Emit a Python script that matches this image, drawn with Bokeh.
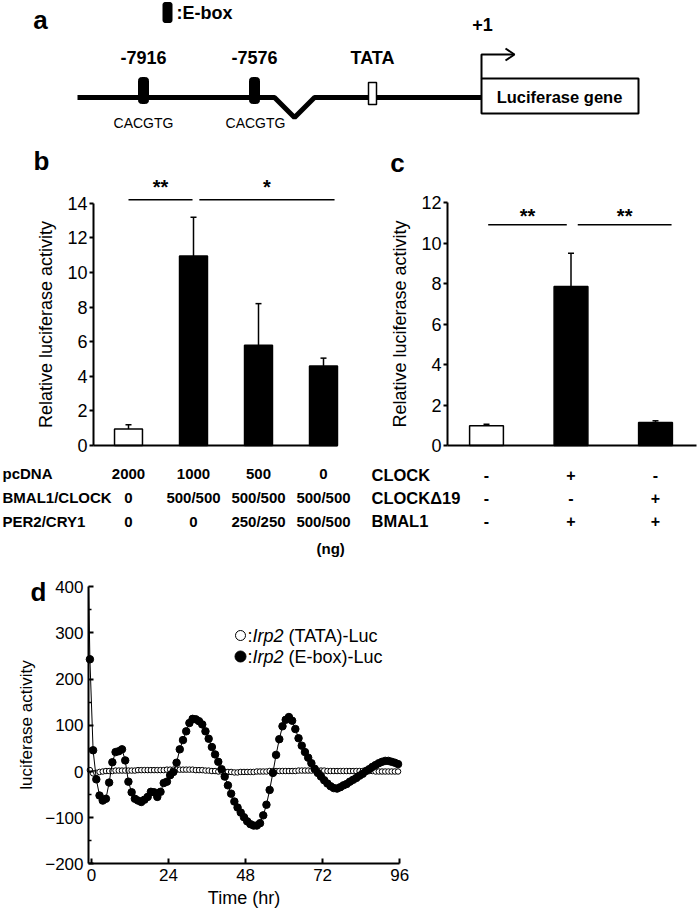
from bokeh.plotting import figure
from bokeh.layouts import column, row
from bokeh.models import Range1d, FixedTicker, Whisker, TeeHead, ColumnDataSource
from bokeh.core.properties import value
from bokeh.embed import file_html
from bokeh.resources import INLINE

FONT = "Liberation Sans"

# ---------------- data ----------------
# panel b
b_x = [1, 2, 3, 4]
b_values = [0.95, 10.95, 5.8, 4.6]
b_err = [0.25, 2.25, 2.4, 0.45]
b_colors = ["white", "black", "black", "black"]
b_row_names = ["pcDNA", "BMAL1/CLOCK", "PER2/CRY1"]
b_row_values = [["2000", "1000", "500", "0"],
                ["0", "500/500", "500/500", "500/500"],
                ["0", "0", "250/250", "500/500"]]
b_sig = [(1.0, 1.985, "**"), (2.09, 4.17, "*")]
b_sig_level = 14.2
b_yticks = [0, 2, 4, 6, 8, 10, 12, 14]

# panel c
c_x = [1, 2, 3]
c_values = [0.97, 7.85, 1.13]
c_err = [0.08, 1.65, 0.09]
c_colors = ["white", "black", "black"]
c_row_names = ["CLOCK", "CLOCK\u039419", "BMAL1"]
c_row_values = [["-", "+", "-"], ["-", "-", "+"], ["-", "+", "+"]]
c_sig = [(1.02, 1.95, "**"), (2.08, 3.19, "**")]
c_sig_level = 10.9
c_yticks = [0, 2, 4, 6, 8, 10, 12]

# panel d (hourly samples)
d_time = [t - 0.5 for t in range(97)]
d_ebox = [243, 46, -17, -52, -63, -59, -24, 20, 42, 44,
          48, 24, -22, -45, -59, -63, -66, -61, -55, -44,
          -45, -55, -44, -25, -22, -8, -1, 19, 48, 68,
          87, 105, 114, 113, 109, 102, 87, 71, 53, 37,
          21, 5, -11, -30, -48, -65, -78, -89, -99, -108,
          -114, -117, -117, -112, -95, -72, -40, -3, 36, 70,
          98, 112, 118, 110, 92, 72, 56, 42, 30, 18,
          6, -3, -11, -19, -26, -32, -36, -37, -34, -30,
          -27, -22, -18, -14, -9, -5, 1, 5, 10, 14,
          18, 21, 23, 23, 21, 19, 16]
d_tata = [3, -4, -3, -1, 0, 1, 1, 1, 2, 2,
          2, 2, 2, 2, 2, 3, 3, 3, 3, 3,
          3, 3, 3, 3, 4, 4, 4, 4, 4, 4,
          4, 4, 4, 3, 3, 3, 2, 2, 1, 1,
          0, 0, -1, -1, -1, -2, -2, -1, -1, -1,
          -1, -1, 0, 0, 0, 0, 1, 1, 1, 1,
          1, 1, 1, 1, 1, 2, 2, 2, 2, 2,
          2, 2, 2, 2, 1, 1, 1, 1, 1, 1,
          1, 1, 1, 1, 1, 1, 1, 1, 1, 0,
          0, 0, 0, 0, 0, 0, 0]
d_ebox_lead = (-0.9, 400)   # start of the trace, along the axis top
d_xticks = [0, 24, 48, 72, 96]
d_yticks = [-200, -100, 0, 100, 200, 300, 400]
d_yminor = [-150, -50, 50, 150, 250, 350]
d_xbounds = (-0.93, 96)
d_ybounds = (-200, 400)

# panel a (schematic, page-pixel layout)
a_line_x = [77, 274, 294, 314, 481]
a_line_y = [97, 97, 117, 97, 97]
a_ebox_x = [143, 254]
a_ebox_labels = ["-7916", "-7576"]
a_ebox_seq = ["CACGTG", "CACGTG"]
a_tata_x = 372

PAGE_X0, PAGE_Y0 = 0, 0
TOTAL_W = 698


def base_fig(width, height, xr, yr):
    p = figure(output_backend="svg", toolbar_location=None, width=width, height=height,
               x_range=Range1d(*xr), y_range=Range1d(*yr), min_border=0)
    p.outline_line_color = None
    p.xgrid.visible = False
    p.ygrid.visible = False
    p.background_fill_color = None
    p.border_fill_color = None
    if "frame_align" in p.properties():
        p.frame_align = False
    return p


def style_axis(ax, size="18px"):
    ax.axis_line_width = 2
    ax.major_tick_line_width = 2
    ax.minor_tick_line_color = None
    ax.major_label_text_font = FONT
    ax.major_label_text_font_size = size
    ax.major_label_text_color = "black"
    ax.axis_label_text_font = FONT
    ax.axis_label_text_font_style = "normal"
    ax.axis_label_text_color = "black"


bold = dict(text_font=value(FONT), text_font_style="bold", text_color="black")

# ---------------- panel a ----------------
TOP_H = 176
pa = base_fig(TOTAL_W, TOP_H, (PAGE_X0, PAGE_X0 + TOTAL_W), (PAGE_Y0 + TOP_H, PAGE_Y0))
pa.axis.visible = False
pa.line(a_line_x, a_line_y, line_width=5, color="black")
pa.rect(x=a_ebox_x, y=[90, 90], width=10, height=26, fill_color="black", line_color="black",
        border_radius=3)
pa.rect(x=[a_tata_x], y=[93], width=8, height=22, fill_color="white", line_color="black",
        line_width=1.5)
pa.quad(left=[481], right=[638], top=[78], bottom=[113], fill_color="white",
        line_color="black", line_width=2)
pa.line([481, 481, 513], [78, 54, 54], line_width=2, color="black")
pa.line([505, 514, 505], [48, 54, 60], line_width=2, color="black")
pa.rect(x=[167], y=[12], width=9, height=20, fill_color="black", line_color="black",
        border_radius=2)
pa.text(x=[176], y=[12], text=[":E-box"], text_font_size="18px", text_align="left",
        text_baseline="middle", **bold)
pa.text(x=a_ebox_x + [a_tata_x], y=[57, 57, 57], text=a_ebox_labels + ["TATA"],
        text_font_size="18px", text_align="center", text_baseline="middle", **bold)
pa.text(x=[482], y=[24], text=["+1"], text_font_size="18px", text_align="center",
        text_baseline="middle", **bold)
pa.text(x=[559], y=[96], text=["Luciferase gene"], text_font_size="16.5px",
        text_align="center", text_baseline="middle", **bold)
pa.text(x=[a_ebox_x[0], a_ebox_x[1] + 1], y=[122, 122], text=a_ebox_seq,
        text_font_size="14px", text_align="center", text_baseline="middle",
        text_font=value(FONT), text_color="black")
pa.text(x=[40, 41, 397], y=[19, 160, 162], text=["a", "b", "c"], text_font_size="26px",
        text_align="center", text_baseline="middle", **bold)


# ---------------- panels b & c ----------------
BC_H = 395
BC_TOP = PAGE_Y0 + TOP_H          # page y of the top of the b/c row
BASE_Y = 445                      # page y of the value 0
B_W = 357
C_W = TOTAL_W - B_W


def bar_panel(xs, vals, errs, colors, page_left, width, x1_px, px_per_x, px_per_y, yaxis_px,
              xaxis_end, bar_w, sig, sig_level, star_y, yticks, row_names, row_vals,
              header_px, row_px, label_size, head_size):
    # ranges chosen so the whole canvas is the frame; axes are placed at fixed data positions
    xr = (1 + (page_left - x1_px) / px_per_x, 1 + (page_left + width - x1_px) / px_per_x)
    yr = ((BASE_Y - BC_TOP - BC_H) / px_per_y, (BASE_Y - BC_TOP) / px_per_y)
    p = base_fig(width, BC_H, xr, yr)
    yaxis_x = 1 + (yaxis_px - x1_px) / px_per_x
    src = ColumnDataSource(dict(x=xs, top=vals, upper=[v + e for v, e in zip(vals, errs)],
                                color=colors))
    p.add_layout(Whisker(source=src, base="x", lower="top", upper="upper",
                         line_width=1.5, line_color="black",
                         upper_head=TeeHead(size=6, line_width=1.5, line_color="black"),
                         lower_head=None))
    p.vbar(x="x", top="top", width=bar_w, fill_color="color", line_color="black",
           line_width=1.5, source=src)
    for x0, x1, stars in sig:
        p.line([x0, x1], [sig_level, sig_level], line_width=1.5, color="black")
        p.text(x=[(x0 + x1) / 2], y=[star_y], text=[stars], text_font_size="20px",
               text_align="center", text_baseline="alphabetic", **bold)
    ya = p.yaxis[0]
    style_axis(ya)
    ya.fixed_location = yaxis_x
    ya.ticker = FixedTicker(ticks=yticks)
    ya.bounds = (0, yticks[-1])
    ya.axis_label = "Relative luciferase activity"
    ya.axis_label_text_font_size = "18px"
    ya.axis_label_standoff = 8
    ya.major_tick_out = 4
    ya.major_tick_in = 0
    ya.major_label_standoff = 2
    xa = p.xaxis[0]
    style_axis(xa)
    xa.fixed_location = 0
    xa.bounds = (yaxis_x, xaxis_end)
    xa.ticker = FixedTicker(ticks=[])
    xa.major_tick_out = 0
    xa.major_tick_in = 0
    header_x = 1 + (header_px - x1_px) / px_per_x
    for name, vals_r, rp in zip(row_names, row_vals, row_px):
        ry = (BASE_Y - rp) / px_per_y
        p.text(x=[header_x], y=[ry], text=[name], text_font_size=head_size,
               text_align="left", text_baseline="middle", **bold)
        p.text(x=xs, y=[ry] * len(xs), text=vals_r, text_font_size=label_size,
               text_align="center", text_baseline="middle", **bold)
    return p, px_per_y


pb, b_pxy = bar_panel(b_x, b_values, b_err, b_colors, PAGE_X0, B_W, 128, 65.0, 17.3, 93, 4.22,
                      0.43, b_sig, b_sig_level, 14.95, b_yticks, b_row_names, b_row_values,
                      2, [473, 497, 521], "15px", "15px")
pb.text(x=[4.11], y=[(BASE_Y - 548) / b_pxy], text=["(ng)"], text_font_size="15px",
        text_align="center", text_baseline="middle", **bold)

pc, _ = bar_panel(c_x, c_values, c_err, c_colors, PAGE_X0 + B_W, C_W, 486, 84.5, 20.25, 447,
                  3.48, 0.40, c_sig, c_sig_level, 11.35, c_yticks, c_row_names, c_row_values,
                  371, [474, 497, 520], "16px", "16.5px")

# ---------------- panel d ----------------
D_TOP = BC_TOP + BC_H
D_H = 911 - D_TOP
T0_PX, PX_PER_T = 91.0, 3.21       # page x of t = 0, pixels per hour
V0_PX, PX_PER_V = 771.0, 0.4617    # page y of value 0, pixels per unit
d_xr = ((PAGE_X0 - T0_PX) / PX_PER_T, (PAGE_X0 + TOTAL_W - T0_PX) / PX_PER_T)
d_yr = ((V0_PX - D_TOP - D_H) / PX_PER_V, (V0_PX - D_TOP) / PX_PER_V)
pd_ = base_fig(TOTAL_W, D_H, d_xr, d_yr)

pd_.scatter(d_time, d_tata, size=5.5, marker="circle", fill_color="white", line_color="black",
            line_width=1)
pd_.line([d_ebox_lead[0]] + d_time, [d_ebox_lead[1]] + d_ebox, line_width=1, color="black")
pd_.scatter(d_time, d_ebox, size=7.5, marker="circle", fill_color="black", line_color="black")


def tx(px):
    return (px - T0_PX) / PX_PER_T


def vy(py):
    return (V0_PX - py) / PX_PER_V


# legend
leg_rows = [(635, "(TATA)-Luc", "white", 10), (656, "(E-box)-Luc", "black", 11)]
for py, txt, fill, sz in leg_rows:
    pd_.scatter([tx(240)], [vy(py)], size=sz, marker="circle", fill_color=fill,
                line_color="black", line_width=1)
    pd_.text(x=[tx(247)], y=[vy(py)], text=[":"], text_font_size="18px", text_align="left",
             text_baseline="middle", text_font=value(FONT), text_color="black")
    pd_.text(x=[tx(252)], y=[vy(py)], text=["Irp2"], text_font_size="18px", text_align="left",
             text_baseline="middle", text_font=value(FONT), text_font_style="italic",
             text_color="black")
    pd_.text(x=[tx(288)], y=[vy(py)], text=[txt], text_font_size="18px", text_align="left",
             text_baseline="middle", text_font=value(FONT), text_color="black")
pd_.text(x=[tx(38)], y=[vy(591)], text=["d"], text_font_size="26px", text_align="center",
         text_baseline="middle", **bold)

xa, ya = pd_.xaxis[0], pd_.yaxis[0]
style_axis(xa, "17px")
style_axis(ya, "17px")
xa.fixed_location = d_ybounds[0]
ya.fixed_location = d_xbounds[0]
xa.bounds = d_xbounds
ya.bounds = d_ybounds
xa.ticker = FixedTicker(ticks=d_xticks)
ya.ticker = FixedTicker(ticks=d_yticks, minor_ticks=d_yminor)
ya.minor_tick_line_color = "black"
ya.minor_tick_line_width = 1.5
ya.minor_tick_in = 3
ya.minor_tick_out = 0
for ax in (xa, ya):
    ax.major_tick_in = 5
    ax.major_tick_out = 0
    ax.major_label_standoff = 5
xa.axis_label = "Time (hr)"
ya.axis_label = "luciferase activity"
xa.axis_label_text_font_size = "18px"
ya.axis_label_text_font_size = "17px"
xa.axis_label_standoff = 4
ya.axis_label_standoff = 6

layout = column(pa, row(pb, pc), pd_)
open("out.html", "w").write(file_html(layout, INLINE))
